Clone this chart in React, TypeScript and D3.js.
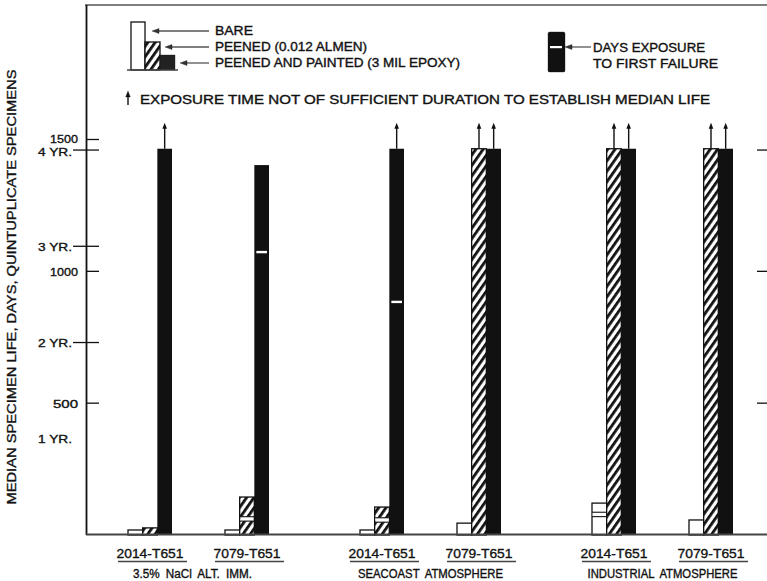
import React from 'react'
import * as d3 from 'd3'

// environments, alloys and surface treatments
const environments = ['3.5% NaCl ALT. IMM.', 'SEACOAST ATMOSPHERE', 'INDUSTRIAL ATMOSPHERE']
const alloys = ['2014-T651', '7079-T651']
const treatments = ['BARE', 'PEENED (0.012 ALMEN)', 'PEENED AND PAINTED (3 MIL EPOXY)']

// median life in days, one value per environment x alloy group
const bareDays = [19, 19, 19, 45, 121, 57]
const peenedDays = [27, 144, 106, 1465, 1465, 1465]
const paintedDays = [1465, 1403, 1465, 1465, 1465, 1465]

// days exposure to first failure (null = not marked)
const bareFirstFailure = [null, null, null, null, 78, null]
const peenedFirstFailure = [null, 61, 57, null, null, null]
const paintedFirstFailure = [null, 1073, 884, null, null, null]

// exposure not long enough to establish median life
const peenedRunout = [false, false, false, true, true, true]
const paintedRunout = [true, false, true, true, true, true]

const dayTicks = [500, 1000, 1500]
const yearTicks = [1, 2, 3, 4]
const rightTicks = [500, 1000, 1460]

const W = 767
const H = 581
const font = '"Liberation Sans", Arial, Helvetica, sans-serif'
const ink = { stroke: '#111', strokeWidth: 0.35 }

export default function App() {
  const y = d3.scaleLinear().domain([0, 1500]).range([535, 139.5])
  const envX = d3.scaleBand().domain(environments).range([105, 801])
  const alloyX = d3.scaleBand().domain(alloys).range([23, 217])
  const seriesX = d3.scaleBand().domain(treatments).range([0, 44])
  const bw = seriesX.bandwidth()

  const groups = environments.flatMap((env, e) =>
    alloys.map((alloy, a) => {
      const i = e * alloys.length + a
      return {
        env, alloy, i,
        x0: (envX(env) as number) + (alloyX(alloy) as number),
        bars: [
          { t: treatments[0], v: bareDays[i], ff: bareFirstFailure[i], run: false, fill: '#fff' },
          { t: treatments[1], v: peenedDays[i], ff: peenedFirstFailure[i], run: peenedRunout[i], fill: 'url(#hatch)' },
          { t: treatments[2], v: paintedDays[i], ff: paintedFirstFailure[i], run: paintedRunout[i], fill: '#111' },
        ],
      }
    })
  )

  const arrowUp = (x: number, y1: number, y2: number, key: string) => (
    <g key={key}>
      <line x1={x} x2={x} y1={y1} y2={y2 + 4} stroke="#111" strokeWidth={1.4} />
      <path d={`M${x - 2.3},${y2 + 6} L${x},${y2} L${x + 2.3},${y2 + 6} Z`} fill="#111" />
    </g>
  )
  const arrowLeft = (x1: number, x2: number, yy: number, key: string) => (
    <g key={key}>
      <line x1={x1} x2={x2 + 5} y1={yy} y2={yy} stroke="#555" strokeWidth={1.3} />
      <path d={`M${x2 + 7},${yy - 2.5} L${x2},${yy} L${x2 + 7},${yy + 2.5} Z`} fill="#333" />
    </g>
  )

  return (
    <svg width={W} height={H} style={{ position: 'absolute', left: 0, top: 0, background: '#fff' }}
      fontFamily={font} fill="#111">
      <defs>
        <pattern id="hatch" patternUnits="userSpaceOnUse" width={6} height={6}
          patternTransform="rotate(35)">
          <rect width={6} height={6} fill="#fff" />
          <rect x={0} y={0} width={2.8} height={6} fill="#111" />
        </pattern>
      </defs>

      {/* frame and axes */}
      <line x1={85} x2={W} y1={5} y2={5} stroke="#555" strokeWidth={1.6} />
      <line x1={86.5} x2={86.5} y1={5} y2={535} stroke="#111" strokeWidth={1.8} />

      {/* legend */}
      <g {...ink}>
        <rect x={131} y={22} width={14} height={48} fill="#fff" stroke="#111" strokeWidth={1.3} />
        <rect x={145} y={42} width={15} height={28} fill="url(#hatch)" stroke="#111" strokeWidth={1.3} />
        <rect x={160} y={55} width={15} height={15} fill="#222" />
        <line x1={127} x2={178} y1={70} y2={70} stroke="#444" strokeWidth={1.5} />
        {arrowLeft(209, 152, 31, 'a1')}
        {arrowLeft(209, 165, 47, 'a2')}
        {arrowLeft(209, 180, 63, 'a3')}
        <text x={215} y={35} fontSize={12} textLength={38} lengthAdjust="spacingAndGlyphs">{treatments[0]}</text>
        <text x={215} y={51} fontSize={12} textLength={152} lengthAdjust="spacingAndGlyphs">{treatments[1]}</text>
        <text x={215} y={67} fontSize={12} textLength={245} lengthAdjust="spacingAndGlyphs">{treatments[2]}</text>

        <rect x={548} y={32} width={17} height={40} rx={1.5} fill="#111" />
        <rect x={550} y={46} width={12} height={2.2} fill="#fff" stroke="none" />
        {arrowLeft(591, 565, 47, 'a4')}
        <text x={593} y={52} fontSize={12} textLength={112} lengthAdjust="spacingAndGlyphs">DAYS EXPOSURE</text>
        <text x={593} y={68} fontSize={12} textLength={125} lengthAdjust="spacingAndGlyphs">TO FIRST FAILURE</text>

        {arrowUp(128, 105, 91, 'note')}
        <text x={140} y={104} fontSize={12} textLength={570} lengthAdjust="spacingAndGlyphs">
          EXPOSURE TIME NOT OF SUFFICIENT DURATION TO ESTABLISH MEDIAN LIFE
        </text>
      </g>

      {/* y axis title */}
      <text transform="translate(16,287) rotate(-90)" textAnchor="middle" fontSize={12}
        textLength={435} lengthAdjust="spacingAndGlyphs" {...ink}>
        MEDIAN SPECIMEN LIFE, DAYS, QUINTUPLICATE SPECIMENS
      </text>

      {/* day ticks */}
      {dayTicks.map(d => (
        <g key={`d${d}`}>
          <line x1={87} x2={99} y1={y(d)} y2={y(d)} stroke="#111" strokeWidth={1.3} />
          <text x={78} y={y(d) + (d === 1500 ? 3.5 : 4.5)} fontSize={11.5} textAnchor="end"
            textLength={d === 500 ? 25 : 28} lengthAdjust="spacingAndGlyphs" {...ink}>{d}</text>
        </g>
      ))}
      {/* year ticks */}
      {yearTicks.map(yr => (
        <g key={`y${yr}`}>
          {yr > 1 && <line x1={73} x2={99} y1={y(yr * 365)} y2={y(yr * 365)} stroke="#111" strokeWidth={1.3} />}
          <text x={72} y={y(yr * 365) + (yr === 4 ? 5.5 : 4.5)} fontSize={11} textAnchor="end"
            textLength={34} lengthAdjust="spacingAndGlyphs" {...ink}>{`${yr} YR.`}</text>
        </g>
      ))}
      {rightTicks.map(d => (
        <line key={`r${d}`} x1={757} x2={W} y1={y(d)} y2={y(d)} stroke="#111" strokeWidth={1.3} />
      ))}

      {/* bars */}
      {groups.map(g => (
        <g key={g.i}>
          {g.bars.map(b => {
            const x = g.x0 + (seriesX(b.t) as number)
            const top = y(b.v)
            const base = y(0)
            return (
              <g key={b.t}>
                <rect x={x} y={top} width={bw} height={base - top} fill={b.fill}
                  stroke="#111" strokeWidth={b.fill === '#111' ? 0 : 1.3} />
                {b.ff != null && (b.fill === '#111'
                  ? <rect x={x + 2} y={y(b.ff) - 1.2} width={bw - 4} height={2.4} fill="#fff" />
                  : <g>
                      <rect x={x + 0.7} y={y(b.ff) - 2.2} width={bw - 1.4} height={4.4} fill="#fff" />
                      <line x1={x} x2={x + bw} y1={y(b.ff) - 2.2} y2={y(b.ff) - 2.2} stroke="#111" strokeWidth={1.1} />
                      <line x1={x} x2={x + bw} y1={y(b.ff) + 2.2} y2={y(b.ff) + 2.2} stroke="#111" strokeWidth={1.1} />
                    </g>)}
                {b.run && arrowUp(x + bw / 2, top, top - 26, 'run')}
              </g>
            )
          })}
          <text x={g.x0 + 22} y={558} fontSize={13.5} textAnchor="middle" textLength={67}
            lengthAdjust="spacingAndGlyphs" {...ink}>{g.alloy}</text>
          <line x1={g.x0 - 10} x2={g.x0 + 59} y1={561.5} y2={561.5} stroke="#444" strokeWidth={1.3} />
        </g>
      ))}

      {/* baseline */}
      <line x1={86} x2={W} y1={534.5} y2={534.5} stroke="#444" strokeWidth={1.8} />

      {/* environment labels */}
      {environments.map((env, e) => (
        <text key={env} x={(envX(env) as number) + 23 + 97 / 2 + 22 + (e === 0 ? -6 : 0)} y={578}
          fontSize={12} textAnchor="middle" textLength={e === 0 ? 119 : e === 1 ? 145 : 150}
          lengthAdjust="spacingAndGlyphs" wordSpacing={3} {...ink}>{env}</text>
      ))}
    </svg>
  )
}
